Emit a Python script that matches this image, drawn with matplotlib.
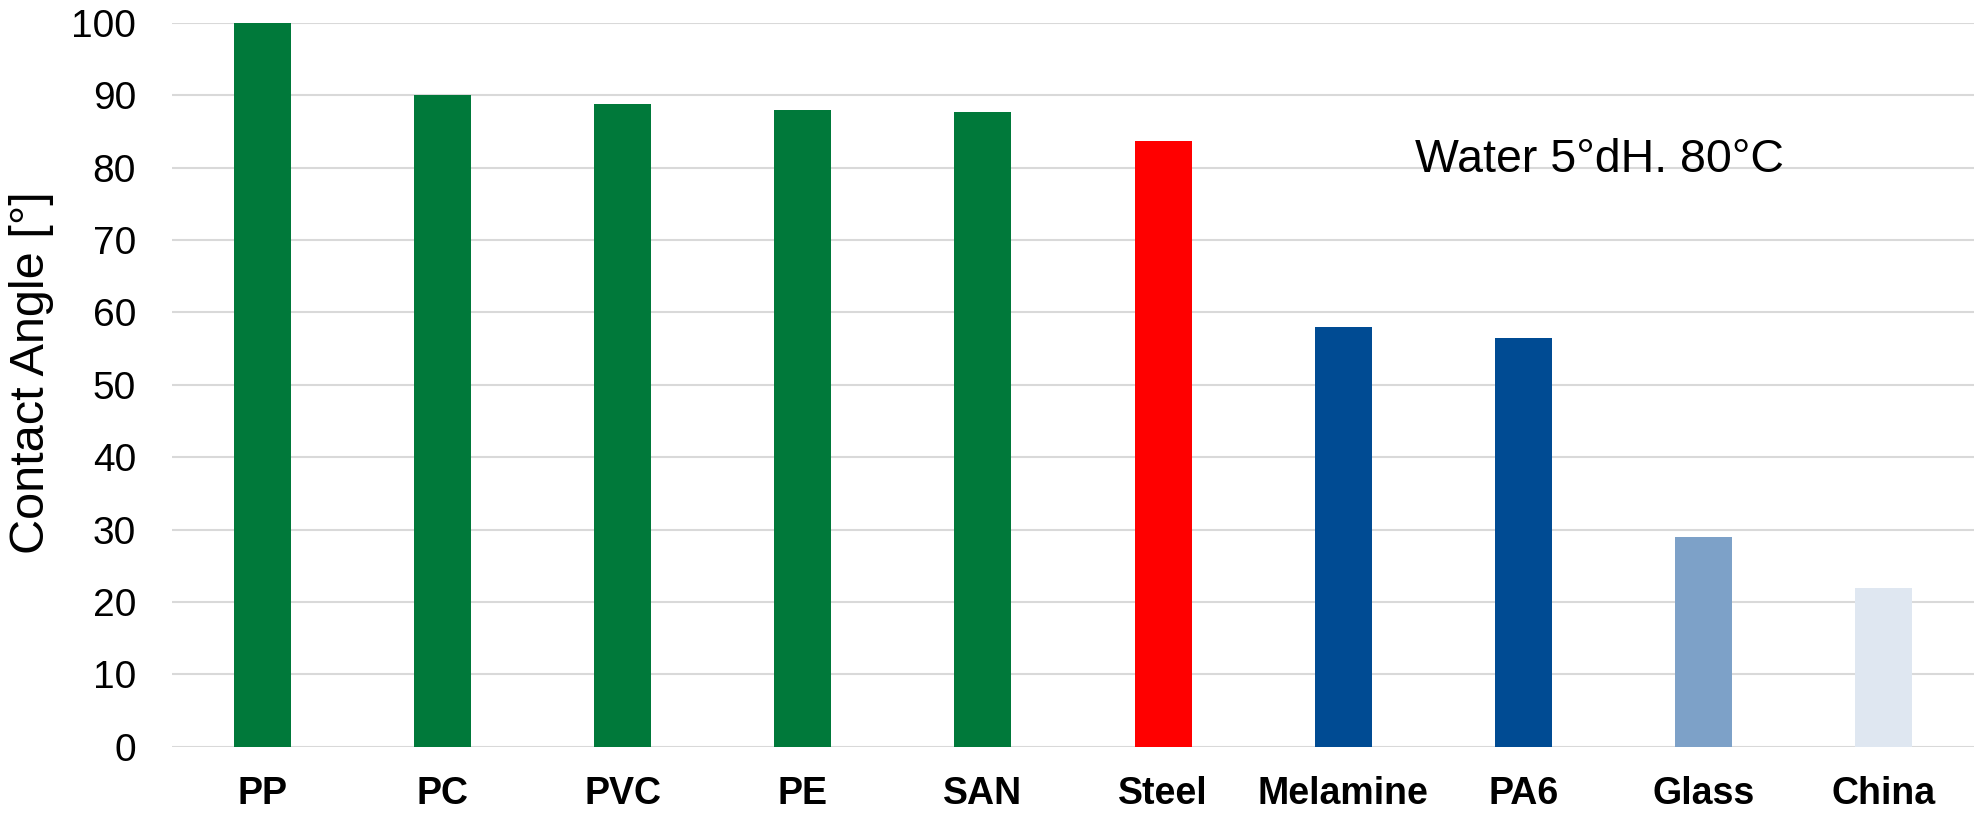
import numpy as np
import matplotlib
matplotlib.use("Agg")
import matplotlib.pyplot as plt

plt.rcParams['font.family'] = ['Liberation Sans', 'DejaVu Sans']

# contact angle per material
materials = ['PP', 'PC', 'PVC', 'PE', 'SAN', 'Steel', 'Melamine', 'PA6', 'Glass', 'China']
angles = [100.0, 90.0, 88.8, 87.9, 87.7, 83.7, 58.0, 56.5, 29.0, 21.9]
colors = ['#00793A', '#00793A', '#00793A', '#00793A', '#00793A',
          '#FF0000', '#004B93', '#004B93', '#7DA1C8', '#DFE7F1']
yticks = [0, 10, 20, 30, 40, 50, 60, 70, 80, 90, 100]

fig = plt.figure(figsize=(19.76, 8.17), dpi=100)
ax = fig.add_axes([172 / 1976, 1 - 746.7 / 817, 1802 / 1976, (746.7 - 22.7) / 817])

x = np.arange(len(materials))
ax.bar(x, angles, width=0.316, color=colors, zorder=3)

ax.set_xlim(-0.5, len(materials) - 0.5)
ax.set_ylim(0, 100)
ax.set_yticks(yticks)
ax.set_xticks(x)
ax.set_xticklabels(materials, fontsize=27, fontweight='bold')
ax.tick_params(axis='y', length=0, pad=26, labelsize=28)
ax.tick_params(axis='x', length=0, pad=21)

ax.grid(axis='y', color='#D9D9D9', linewidth=1.5, zorder=0)
ax.set_axisbelow(True)
for s in ax.spines.values():
    s.set_visible(False)

ax.set_ylabel('Contact Angle [°]', fontsize=35, va='center')
ax.yaxis.set_label_coords(-0.0777, 0.516)

ax.text(6.4, 79.4, 'Water 5°dH. 80°C', fontsize=33.5, ha='left', va='baseline')

fig.savefig('out.png', dpi=100)
